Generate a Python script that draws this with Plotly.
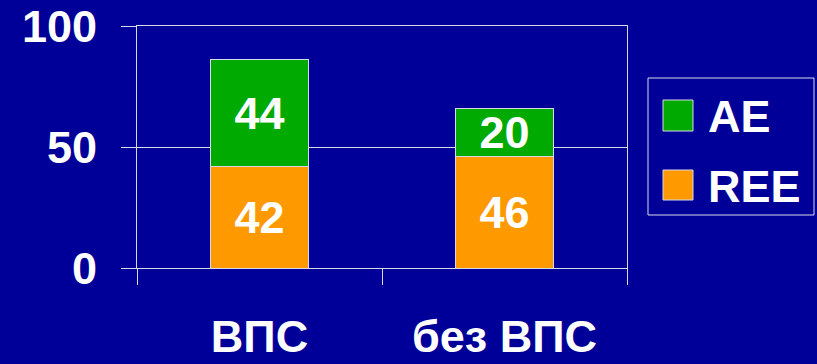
import plotly.graph_objects as go

categories = ["ВПС", "без ВПС"]
series_names = ["REE", "AE"]
ree_values = [42, 46]
ae_values = [44, 20]
y_ticks = [0, 50, 100]

BG = "#000099"
GREEN = "#00AA00"
ORANGE = "#FF9900"
LINE = "#D8D8E8"
FONT = "Arial, 'Liberation Sans', sans-serif"

W, H = 817, 364
L, R, T, B = 137, 817 - 627, 26, 364 - 268

def px_x(p):
    return (p - L) / (W - L - R)

def px_y(p):
    return (H - B - p) / (H - T - B)

fig = go.Figure()
for vals, name, col in [(ree_values, series_names[0], ORANGE), (ae_values, series_names[1], GREEN)]:
    fig.add_trace(go.Bar(
        x=categories, y=vals, name=name,
        marker=dict(color=col, line=dict(color=LINE, width=1)),
        text=vals, textposition="inside", insidetextanchor="middle", textangle=0,
        textfont=dict(color="white", size=45, family=FONT, weight="bold"),
        showlegend=False,
    ))

# custom legend
shapes = [dict(type="rect", xref="paper", yref="paper",
               x0=px_x(648), x1=px_x(814), y0=px_y(215), y1=px_y(78),
               line=dict(color=LINE, width=1), fillcolor=BG)]
annotations = []
legend_items = [(series_names[1], GREEN, 100, 131), (series_names[0], ORANGE, 170, 200)]
for name, col, top, bot in legend_items:
    shapes.append(dict(type="rect", xref="paper", yref="paper",
                       x0=px_x(663), x1=px_x(693), y0=px_y(bot), y1=px_y(top),
                       line=dict(color=LINE, width=1), fillcolor=col))
    annotations.append(dict(xref="paper", yref="paper", x=px_x(706), y=px_y((top + bot) / 2 + 1),
                            xanchor="left", yanchor="middle", showarrow=False, text=name,
                            font=dict(color="white", size=45, family=FONT, weight="bold")))

fig.update_layout(
    width=W, height=H,
    margin=dict(l=L, r=R, t=T, b=B, autoexpand=False),
    paper_bgcolor=BG, plot_bgcolor=BG,
    barmode="stack", bargap=0.6,
    uniformtext=dict(minsize=45, mode="show"),
    shapes=shapes, annotations=annotations,
    font=dict(family=FONT, color="white", size=45, weight="bold"),
    xaxis=dict(
        automargin=False,
        tickson="boundaries", ticks="outside", ticklen=16, tickcolor=LINE, tickwidth=1,
        showline=True, linecolor=LINE, linewidth=1, mirror=True,
        showgrid=False, ticklabelstandoff=29,
        tickfont=dict(size=45, family=FONT, color="white", weight="bold"),
    ),
    yaxis=dict(
        automargin=False,
        range=[0, 100], tickvals=y_ticks, ticks="outside", ticklen=15,
        tickcolor=LINE, tickwidth=1, showline=True, linecolor=LINE, linewidth=1, mirror=True,
        showgrid=True, gridcolor=LINE, gridwidth=1, zeroline=False,
        ticklabelstandoff=15,
        tickfont=dict(size=45, family=FONT, color="white", weight="bold"),
    ),
)

fig.write_html("out.html")
